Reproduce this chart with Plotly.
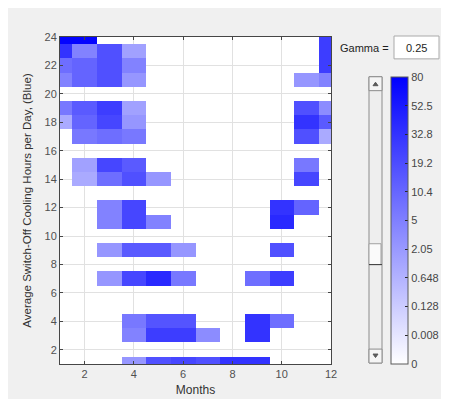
import plotly.graph_objects as go

# ---- data (values per month, hours 1..24) ----
months = list(range(1, 13))
hours = list(range(1, 25))

jan = [0,0,0,0,0, 0,0,0,0,0, 0,0,0,0,0, 0,0,1.0,6.3,0, 4.6,8.4,33,75]
feb = [0,0,0,0,0, 0,0,0,0,0, 0,0,0,1.0,1.5, 0,6.3,10.9,14,0, 10.9,10.9,4.6,75]
mar = [0,0,0,0,0, 0,2.3,0,2.3,0, 4.6,4.6,0,8.4,22, 0,8.4,22,27,0, 17.7,17.7,17.7,0]
apr = [2.3,0,4.6,6.3,0, 0,22,0,14,0, 22,22,0,17.7,14, 0,6.3,2.3,1.5,0, 2.3,4.6,1.5,0]
may = [17.7,0,27,16,0, 0,40,0,14,0, 4.6,0,0,2.3,0, 0,0,0,0,0, 0,0,0,0]
jun = [22,0,27,16,0, 0,6.3,0,2.3,0, 0,0,0,0,0, 0,0,0,0,0, 0,0,0,0]
jul = [17.7,0,3.3,0,0, 0,0,0,0,0, 0,0,0,0,0, 0,0,0,0,0, 0,0,0,0]
aug = [33,0,0,0,0, 0,0,0,0,0, 0,0,0,0,0, 0,0,0,0,0, 0,0,0,0]
sep = [33,0,33,33,0, 0,8.4,0,0,0, 0,0,0,0,0, 0,0,0,0,0, 0,0,0,0]
oct_ = [0,0,0,8.4,0, 0,27,0,17.7,0, 40,33,0,0,0, 0,0,0,0,0, 0,0,0,0]
nov = [0,0,0,0,0, 0,0,0,0,0, 0,11,0,22,6.3, 0,17.7,33,17.7,0, 2.3,0,0,0]
dec = [0,0,0,0,0, 0,0,0,0,0, 0,0,0,0,0, 0,1.0,14,3.3,0, 4.6,27,27,27]

gamma = 0.25
vmax = 80
cbar_labels = ["0", "0.008", "0.128", "0.648", "2.05", "5", "10.4", "19.2", "32.8", "52.5", "80"]
cbar_levels = [i / 10 for i in range(11)]

cols = [jan, feb, mar, apr, may, jun, jul, aug, sep, oct_, nov, dec]
z = []
for h in range(len(hours)):
    row = []
    for c in cols:
        v = c[h]
        row.append((v / vmax) ** gamma if v > 0 else None)
    z.append(row)

# ---- layout geometry (pixels) ----
W, H = 449, 399
L, R, T, B = 52, 323, 29, 358


def px(x):
    return (x - L) / (R - L)


def py(y):
    return (B - y) / (B - T)


font = "Liberation Sans, Arial, sans-serif"

fig = go.Figure()
fig.add_trace(go.Heatmap(
    x=months, y=hours, z=z,
    zmin=0, zmax=1,
    colorscale=[[0, "rgb(255,255,255)"], [1, "rgb(0,0,255)"]],
    hoverongaps=False,
    colorbar=dict(
        x=px(383), xanchor="left", xpad=0,
        y=0, yanchor="bottom", ypad=0,
        len=(B - 69) / (B - T), lenmode="fraction",
        thickness=17, thicknessmode="pixels",
        outlinewidth=1, outlinecolor="rgb(90,90,90)",
        tickvals=cbar_levels, ticktext=cbar_labels,
        ticks="inside", ticklen=3, tickcolor="rgb(40,40,40)",
        tickfont=dict(family=font, size=11, color="rgb(70,70,70)"),
    ),
))

axis_common = dict(
    showgrid=True, gridcolor="rgb(225,225,225)", gridwidth=1,
    zeroline=False, showline=True, linecolor="rgb(70,70,70)", linewidth=1,
    mirror="ticks", ticks="inside", ticklen=3, tickcolor="rgb(70,70,70)",
    tickfont=dict(family=font, size=11, color="rgb(80,80,80)"),
)

fig.update_xaxes(range=[1, 12], tickvals=[2, 4, 6, 8, 10, 12],
                 title=dict(text="Months", font=dict(family=font, size=12, color="rgb(50,50,50)"), standoff=6),
                 **axis_common)
fig.update_yaxes(range=[1, 24], tickvals=list(range(2, 25, 2)),
                 title=dict(text="Average Switch-Off Cooling Hours per Day, (Blue)",
                            font=dict(family=font, size=11.5, color="rgb(50,50,50)"), standoff=10),
                 **axis_common)

shapes = []
# slider
shapes.append(dict(type="rect", xref="paper", yref="paper",
                   x0=px(361), x1=px(374), y0=py(357), y1=py(69),
                   line=dict(color="rgb(140,140,140)", width=1), fillcolor="rgb(238,238,238)", layer="above"))
shapes.append(dict(type="rect", xref="paper", yref="paper",
                   x0=px(361), x1=px(374), y0=py(83), y1=py(69),
                   line=dict(color="rgb(140,140,140)", width=1), fillcolor="rgb(245,245,245)", layer="above"))
shapes.append(dict(type="rect", xref="paper", yref="paper",
                   x0=px(361), x1=px(374), y0=py(357), y1=py(343),
                   line=dict(color="rgb(140,140,140)", width=1), fillcolor="rgb(245,245,245)", layer="above"))
shapes.append(dict(type="rect", xref="paper", yref="paper",
                   x0=px(361), x1=px(373), y0=py(258), y1=py(237),
                   line=dict(color="rgb(160,160,160)", width=1), fillcolor="rgb(250,250,250)", layer="above"))
shapes.append(dict(type="line", xref="paper", yref="paper",
                   x0=px(361), x1=px(374), y0=py(258), y1=py(258),
                   line=dict(color="rgb(60,60,60)", width=1), layer="above"))
# arrow glyphs
up = f"M {px(365)} {py(78)} L {px(370)} {py(78)} L {px(367.5)} {py(74.5)} Z"
dn = f"M {px(365)} {py(348)} L {px(370)} {py(348)} L {px(367.5)} {py(351.5)} Z"
for p in (up, dn):
    shapes.append(dict(type="path", xref="paper", yref="paper", path=p,
                       line=dict(color="rgb(90,90,90)", width=1), fillcolor="rgb(90,90,90)", layer="above"))
# gamma edit box
shapes.append(dict(type="rect", xref="paper", yref="paper",
                   x0=px(386), x1=px(431), y0=py(51), y1=py(28),
                   line=dict(color="rgb(170,170,170)", width=1), fillcolor="white", layer="above"))

fig.update_layout(
    width=W, height=H,
    margin=dict(l=L, r=W - R, t=T, b=H - B),
    paper_bgcolor="rgb(240,240,240)", plot_bgcolor="white",
    shapes=shapes,
    annotations=[
        dict(text="Gamma =", xref="paper", yref="paper", x=px(383), y=py(40),
             xanchor="right", yanchor="middle", showarrow=False,
             font=dict(family=font, size=11, color="rgb(30,30,30)")),
        dict(text=str(gamma), xref="paper", yref="paper", x=px(408.5), y=py(40),
             xanchor="center", yanchor="middle", showarrow=False,
             font=dict(family=font, size=11, color="rgb(30,30,30)")),
    ],
)

fig.write_html("out.html")
